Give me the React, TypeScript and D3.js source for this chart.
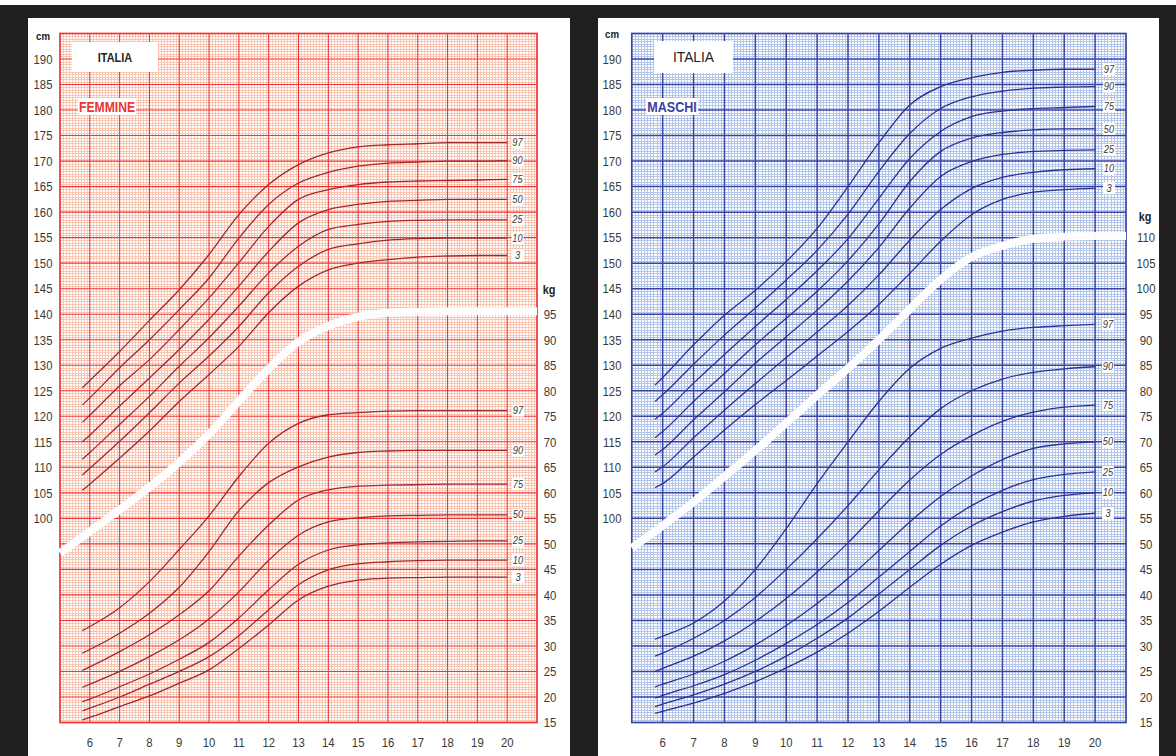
import React from 'react';
import * as d3 from 'd3';

// ---------- DATA ----------
const AGES = [5.75, 6, 7, 8, 9, 10, 11, 12, 13, 14, 15, 16, 17, 18, 19, 20];
const PERCENTILES = ['97', '90', '75', '50', '25', '10', '3'];
const X_TICKS = [6, 7, 8, 9, 10, 11, 12, 13, 14, 15, 16, 17, 18, 19, 20];
const CM_TICKS = [100, 105, 110, 115, 120, 125, 130, 135, 140, 145, 150, 155, 160, 165, 170, 175, 180, 185, 190];
const KG_TICKS_F = [15, 20, 25, 30, 35, 40, 45, 50, 55, 60, 65, 70, 75, 80, 85, 90, 95];
const KG_TICKS_M = [15, 20, 25, 30, 35, 40, 45, 50, 55, 60, 65, 70, 75, 80, 85, 90, 95, 100, 105, 110];
const BAND_AGES = [5, 6, 7, 8, 9, 10, 11, 12, 13, 14, 15, 16, 17, 18, 19, 20, 21];

// Girls height (cm)
const femH97 = [125.6, 127.0, 132.7, 138.8, 144.8, 151.7, 159.5, 165.4, 169.3, 171.6, 172.8, 173.2, 173.4, 173.6, 173.6, 173.6];
const femH90 = [122.2, 123.6, 129.5, 135, 140.9, 147.1, 154.9, 161.5, 165.7, 167.8, 169, 169.6, 169.8, 170, 170, 170.1];
const femH75 = [118.8, 120.2, 126, 131.1, 137, 143.2, 150.1, 157.2, 162.5, 164.4, 165.4, 165.9, 166.1, 166.2, 166.3, 166.4];
const femH50 = [115.0, 116.3, 122, 127.5, 133.1, 139, 145.5, 152.3, 157.9, 160.5, 161.5, 162.1, 162.3, 162.5, 162.5, 162.5];
const femH25 = [111.6, 112.9, 118.4, 123.9, 129.8, 135.4, 141.6, 148.1, 153.3, 156.6, 157.6, 158.2, 158.4, 158.5, 158.5, 158.5];
const femH10 = [108.5, 109.8, 115.1, 120.7, 126.5, 131.8, 137.6, 144.2, 149.4, 152.7, 153.8, 154.5, 154.8, 154.9, 154.9, 154.9];
const femH3 = [105.5, 106.7, 111.8, 117.1, 122.9, 128.2, 133.7, 140.3, 145.5, 148.7, 150, 150.7, 151.2, 151.4, 151.5, 151.5];

// Girls weight (kg)
const femW97 = [33.0, 33.8, 37.5, 42.6, 48.9, 55.5, 63.2, 69.7, 73.6, 75.3, 75.7, 76, 76.1, 76.1, 76.1, 76.1];
const femW90 = [28.6, 29.3, 32.5, 36.4, 41.5, 48.5, 56.5, 62, 65.1, 67, 67.9, 68.2, 68.3, 68.3, 68.3, 68.3];
const femW75 = [25.2, 25.9, 28.9, 32.2, 36.1, 40.8, 47.6, 53.7, 58.6, 60.6, 61.3, 61.5, 61.6, 61.7, 61.7, 61.7];
const femW50 = [21.9, 22.5, 25, 27.9, 31.2, 35.3, 40.6, 46.8, 51.7, 54.3, 55.1, 55.5, 55.6, 55.7, 55.7, 55.7];
const femW25 = [19.1, 19.6, 22, 24.5, 27.4, 30.7, 35.5, 41, 46, 48.8, 49.8, 50.2, 50.4, 50.5, 50.6, 50.6];
const femW10 = [17.3, 17.8, 20, 22.5, 25, 27.9, 32, 37.1, 42, 44.9, 46.1, 46.5, 46.7, 46.8, 46.8, 46.8];
const femW3 = [15.5, 16, 18.1, 20.2, 22.7, 25.3, 29.5, 34.1, 39, 41.7, 42.9, 43.3, 43.4, 43.5, 43.5, 43.5];

// Boys height (cm)
const masH97 = [126.1, 127.6, 134, 139.8, 144.7, 150.3, 156.8, 165, 173.6, 181, 184.6, 186.35, 187.4, 187.8, 188, 188];
const masH90 = [122.9, 124.2, 130.2, 135.9, 141.2, 146.7, 152.5, 159.6, 168, 175.4, 180.3, 182.6, 183.7, 184.3, 184.5, 184.6];
const masH75 = [119.4, 120.6, 126.5, 132.1, 137.6, 142.9, 148.5, 154.8, 162.7, 170.5, 175.8, 178.7, 179.8, 180.3, 180.5, 180.7];
const masH50 = [115.8, 117, 122.9, 128.4, 134, 139.2, 144.5, 150.5, 157.7, 166, 171.9, 174.5, 175.6, 176.1, 176.3, 176.3];
const masH25 = [112.4, 113.5, 119.3, 124.8, 130.4, 135.6, 140.8, 146.5, 153.1, 160.8, 167, 169.9, 171.3, 171.9, 172.1, 172.2];
const masH10 = [109.1, 110.1, 115.8, 121.2, 126.4, 131.5, 136.5, 141.7, 147.7, 154.5, 160.5, 164.6, 166.8, 167.8, 168.3, 168.5];
const masH3 = [106, 106.8, 112, 117.3, 122.3, 127, 131.8, 136.6, 141.9, 148, 154.3, 159.5, 162.5, 163.9, 164.4, 164.7];

// Boys weight (kg)
const masW97 = [31.3, 31.9, 34.5, 38.8, 45, 53, 61.8, 70, 77.9, 84.4, 88.3, 90.3, 91.7, 92.4, 92.75, 93];
const masW90 = [28, 28.6, 31.5, 35, 39.5, 45, 51, 57.5, 64.5, 71, 76.5, 80, 82.3, 83.6, 84.3, 84.7];
const masW75 = [25, 25.6, 28, 31, 34.8, 39.3, 44.5, 50.2, 56.5, 62.5, 67.5, 71.2, 74, 75.8, 76.8, 77.2];
const masW50 = [22, 22.5, 24.5, 27, 30.2, 34, 38.3, 43.2, 48.7, 54.3, 59.3, 63.3, 66.5, 68.7, 69.6, 70];
const masW25 = [19.75, 20.3, 22.2, 24.4, 27.2, 30.5, 34.2, 38.5, 43.5, 48.5, 53.5, 57.5, 60.5, 62.6, 63.6, 64.1];
const masW10 = [18.1, 18.6, 20.4, 22.5, 25, 28, 31.5, 35.5, 40.2, 45, 49.7, 53.5, 56.3, 58.4, 59.5, 60];
const masW3 = [16.8, 17.2, 18.8, 20.7, 23, 25.7, 28.8, 32.5, 36.8, 41.5, 46, 49.7, 52.3, 54.3, 55.4, 56];

// White separating band (cm scale)
const femBand = [93.2, 97.4, 101.7, 106.1, 111, 116.5, 123, 129.3, 134.6, 137.7, 139.5, 140.3, 140.5, 140.6, 140.6, 140.6, 140.6];
const masBand = [94.2, 98.6, 103.2, 108.2, 113.3, 118.7, 124.1, 129.4, 135, 141, 146.8, 151.2, 153.4, 154.8, 155.2, 155.3, 155.3];

// ---------- STYLE / LAYOUT ----------
const SANS = "'Liberation Sans', Arial, sans-serif";
const TXT = '#3a3a3a';
const SQUEEZE = 0.84;

const panels = [
  {
    key: 'F',
    white: [28, 570],
    gx: [60, 537],
    cmX: 43,
    cmLabelY: 40,
    kgX: 550,
    kgLabelY: 294,
    pctX: 517.5,
    wPctX: 518,
    kgTicks: KG_TICKS_F,
    fine: '#f9c6b4',
    major: '#ef3535',
    majorW: 1.1,
    curve: '#a2282d',
    height: [femH97, femH90, femH75, femH50, femH25, femH10, femH3],
    weight: [femW97, femW90, femW75, femW50, femW25, femW10, femW3],
    band: femBand,
    italia: { x: 72, y: 42, w: 86, h: 30, size: 13, weight: 700, sx: SQUEEZE },
    sex: { text: 'FEMMINE', x: 78, y: 98, w: 58, h: 17, color: '#ec3434', size: 14.5 },
  },
  {
    key: 'M',
    white: [598, 1159],
    gx: [631.8, 1126],
    cmX: 612,
    cmLabelY: 38,
    kgX: 1146,
    kgLabelY: 221,
    pctX: 1109,
    wPctX: 1108,
    kgTicks: KG_TICKS_M,
    fine: '#b4c5ea',
    major: '#3c43a2',
    majorW: 1.5,
    curve: '#2c3192',
    height: [masH97, masH90, masH75, masH50, masH25, masH10, masH3],
    weight: [masW97, masW90, masW75, masW50, masW25, masW10, masW3],
    band: masBand,
    italia: { x: 654, y: 41, w: 79, h: 32, size: 15, weight: 400, sx: 0.92 },
    sex: { text: 'MASCHI', x: 646, y: 98, w: 52, h: 17, color: '#3a3f9e', size: 15 },
  },
];

const Y0 = 722.5;
const Y1 = 33.5;

function NText({ x, y, size, sx = SQUEEZE, weight = 400, italic = false, fill = TXT, children }: any) {
  return (
    <text
      transform={`translate(${x},${y}) scale(${sx},1)`}
      textAnchor="middle"
      fontFamily={SANS}
      fontSize={size}
      fontWeight={weight}
      fontStyle={italic ? 'italic' : 'normal'}
      fill={fill}
    >
      {children}
    </text>
  );
}

function Panel({ p }: { p: any }) {
  const x = d3.scaleLinear().domain([5, 21]).range(p.gx);
  const y = d3.scaleLinear().domain([60, 195]).range([Y0, Y1]);
  const yKg = d3.scaleLinear().domain([15, 150]).range([Y0, Y1]);

  // fine grid
  let fine = '';
  for (let i = 1; i < 160; i++) {
    if (i % 10 === 0) continue;
    const xx = Math.round(x(5 + i / 10)) + 0.5;
    fine += `M${xx},${Y1}V${Y0}`;
  }
  for (let j = 1; j < 270; j++) {
    if (j % 10 === 0) continue;
    const yy = Math.round(y(60 + j / 2)) + 0.5;
    fine += `M${p.gx[0]},${yy}H${p.gx[1]}`;
  }
  let major = '';
  for (let a = 6; a <= 20; a++) major += `M${x(a)},${Y1}V${Y0}`;
  for (let c = 65; c <= 190; c += 5) major += `M${p.gx[0]},${y(c)}H${p.gx[1]}`;

  const lineCm = d3
    .line<[number, number]>()
    .x((d) => x(d[0]))
    .y((d) => y(d[1]))
    .curve(d3.curveMonotoneX);
  const lineKg = d3
    .line<[number, number]>()
    .x((d) => x(d[0]))
    .y((d) => yKg(d[1]))
    .curve(d3.curveMonotoneX);

  const bandPts = BAND_AGES.map((a, i) => [a, p.band[i]] as [number, number]);

  return (
    <g>
      <rect x={p.white[0]} y={18} width={p.white[1] - p.white[0]} height={756 - 18} fill="#ffffff" />
      <path d={fine} stroke={p.fine} strokeWidth={1} fill="none" shapeRendering="crispEdges" />
      <path d={major} stroke={p.major} strokeWidth={p.majorW} fill="none" />
      <rect x={p.gx[0]} y={Y1} width={p.gx[1] - p.gx[0]} height={Y0 - Y1} fill="none" stroke={p.major} strokeWidth={1.7} />

      {/* white band */}
      <path d={lineCm(bandPts) || ''} stroke="#ffffff" strokeWidth={8} fill="none" strokeLinecap="butt" opacity={0.97} />

      {/* curves */}
      {p.height.map((vals: number[], k: number) => (
        <path key={'h' + k} d={lineCm(AGES.map((a, i) => [a, vals[i]] as [number, number])) || ''} stroke={p.curve} strokeWidth={1.3} fill="none" />
      ))}
      {p.weight.map((vals: number[], k: number) => (
        <path key={'w' + k} d={lineKg(AGES.map((a, i) => [a, vals[i]] as [number, number])) || ''} stroke={p.curve} strokeWidth={1.3} fill="none" />
      ))}

      {/* percentile labels */}
      {p.height.map((vals: number[], k: number) => {
        const yy = y(vals[vals.length - 1]);
        return (
          <g key={'hl' + k}>
            <rect x={p.pctX - 6} y={yy - 6} width={12} height={12} fill="#ffffff" />
            <NText x={p.pctX} y={yy + 3.6} size={11} italic>
              {PERCENTILES[k]}
            </NText>
          </g>
        );
      })}
      {p.weight.map((vals: number[], k: number) => {
        const yy = yKg(vals[vals.length - 1]);
        return (
          <g key={'wl' + k}>
            <rect x={p.wPctX - 6} y={yy - 6} width={12} height={12} fill="#ffffff" />
            <NText x={p.wPctX} y={yy + 3.6} size={11} italic>
              {PERCENTILES[k]}
            </NText>
          </g>
        );
      })}

      {/* axes labels */}
      <NText x={p.cmX} y={p.cmLabelY} size={11.5} weight={700} fill="#222">cm</NText>
      {CM_TICKS.map((c) => (
        <NText key={'cm' + c} x={p.cmX} y={y(c) + 4.8} size={13.5}>
          {c}
        </NText>
      ))}
      <NText x={p.kgX - 1} y={p.kgLabelY} size={13} weight={700} fill="#222">kg</NText>
      {p.kgTicks.map((k: number) => (
        <NText key={'kg' + k} x={p.kgX} y={yKg(k) + 4.8} size={13.5}>
          {k}
        </NText>
      ))}
      {X_TICKS.map((a) => (
        <NText key={'x' + a} x={x(a)} y={746.5} size={13.5}>
          {a}
        </NText>
      ))}

      {/* title boxes */}
      <rect x={p.italia.x} y={p.italia.y} width={p.italia.w} height={p.italia.h} fill="#ffffff" />
      <NText x={p.italia.x + p.italia.w / 2} y={p.italia.y + p.italia.h / 2 + p.italia.size * 0.36} size={p.italia.size} weight={p.italia.weight} sx={p.italia.sx} fill="#222">
        ITALIA
      </NText>
      <rect x={p.sex.x} y={p.sex.y} width={p.sex.w} height={p.sex.h} fill="#ffffff" />
      <NText x={p.sex.x + p.sex.w / 2} y={p.sex.y + p.sex.h / 2 + p.sex.size * 0.36} size={p.sex.size} weight={700} fill={p.sex.color}>
        {p.sex.text}
      </NText>
    </g>
  );
}

export default function App() {
  return (
    <div style={{ position: 'absolute', left: 0, top: 0 }}>
      <svg width={1176} height={756} style={{ display: 'block' }}>
        <rect x={0} y={0} width={1176} height={756} fill="#ffffff" />
        <rect x={0} y={5} width={1176} height={751} fill="#221f20" />
        {panels.map((p) => (
          <Panel key={p.key} p={p} />
        ))}
      </svg>
    </div>
  );
}
